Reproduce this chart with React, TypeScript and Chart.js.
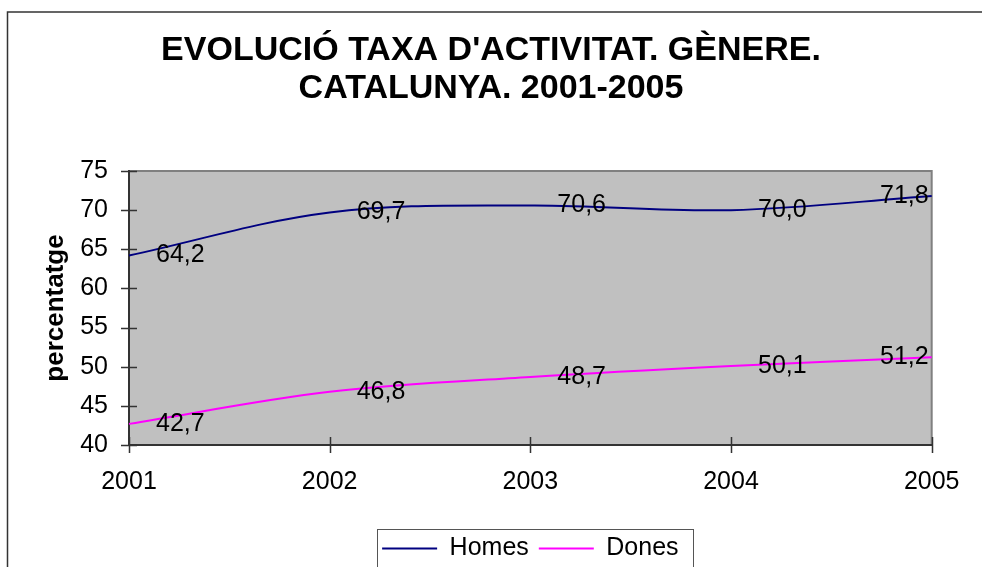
import React, { useEffect, useRef } from 'react';
import { Chart, registerables } from 'chart.js';

Chart.register(...registerables);

const TITLE_LINES = ["EVOLUCIÓ TAXA D'ACTIVITAT. GÈNERE.", 'CATALUNYA. 2001-2005'];
const YEARS = ['2001', '2002', '2003', '2004', '2005'];
const SERIES_NAMES = ['Homes', 'Dones'];
const HOMES = [64.2, 69.7, 70.6, 70.0, 71.8];
const DONES = [42.7, 46.8, 48.7, 50.1, 51.2];
const SERIES_COLORS = ['#000080', '#FF00FF'];
const Y_MIN = 40;
const Y_MAX = 75;
const Y_STEP = 5;
const Y_TITLE = 'percentatge';

const FONT = '"Liberation Sans", Arial, sans-serif';

const decorPlugin = {
  id: 'decor',
  beforeDraw(chart: any) {
    const { ctx, chartArea: a } = chart;
    ctx.save();
    ctx.fillStyle = '#ffffff';
    ctx.fillRect(0, 0, chart.width, chart.height);
    ctx.fillStyle = '#C0C0C0';
    ctx.fillRect(a.left, a.top, a.right - a.left, a.bottom - a.top);
    ctx.strokeStyle = '#808080';
    ctx.lineWidth = 2;
    ctx.beginPath();
    ctx.moveTo(a.left, a.top);
    ctx.lineTo(a.right, a.top);
    ctx.lineTo(a.right, a.bottom);
    ctx.stroke();
    // outer frame (clipped at right/bottom)
    ctx.strokeStyle = '#333333';
    ctx.lineWidth = 1.5;
    ctx.beginPath();
    ctx.moveTo(7.5, chart.height + 4);
    ctx.lineTo(7.5, 12);
    ctx.lineTo(chart.width + 4, 12);
    ctx.stroke();
    ctx.restore();
  },
  beforeDatasetsDraw(chart: any) {
    const { ctx, chartArea: a, scales } = chart;
    const xs = scales.x;
    const ys = scales.y;
    ctx.save();
    ctx.strokeStyle = '#333333';
    ctx.lineWidth = 1.5;
    ctx.beginPath();
    xs.ticks.forEach((_t: any, i: number) => {
      const px = Math.round(xs.getPixelForTick(i)) + 0.5;
      ctx.moveTo(px, a.bottom - 8);
      ctx.lineTo(px, a.bottom + 8);
    });
    ys.ticks.forEach((_t: any, i: number) => {
      const py = Math.round(ys.getPixelForTick(i)) + 0.5;
      ctx.moveTo(a.left - 8, py);
      ctx.lineTo(a.left + 8, py);
    });
    ctx.stroke();
    ctx.restore();
  },
  afterDatasetsDraw(chart: any) {
    const { ctx } = chart;
    ctx.save();
    ctx.font = `25px ${FONT}`;
    ctx.fillStyle = '#000000';
    ctx.textBaseline = 'middle';
    chart.data.datasets.forEach((ds: any, di: number) => {
      const meta = chart.getDatasetMeta(di);
      meta.data.forEach((pt: any, i: number) => {
        const v = ds.data[i] as number;
        const text = v.toFixed(1).replace('.', ',');
        const last = i === meta.data.length - 1;
        ctx.textAlign = last ? 'right' : 'left';
        ctx.fillText(text, last ? pt.x - 3 : pt.x + 27, pt.y);
      });
    });
    ctx.restore();
  },
  afterDraw(chart: any) {
    const { ctx } = chart;
    const hb = chart.legend && chart.legend.legendHitBoxes;
    if (!hb || !hb.length) return;
    const first = hb[0];
    const last = hb[hb.length - 1];
    const left = first.left - 5;
    const right = last.left + last.width + 15;
    const cy = first.top + first.height / 2;
    ctx.save();
    ctx.strokeStyle = '#555555';
    ctx.lineWidth = 1;
    ctx.strokeRect(Math.round(left) + 0.5, Math.round(cy - 19.5) + 0.5, Math.round(right - left), 39);
    ctx.restore();
  },
};

export default function App() {
  const canvasRef = useRef<HTMLCanvasElement | null>(null);

  useEffect(() => {
    document.body.style.margin = '0';
    const canvas = canvasRef.current;
    if (!canvas) return;
    Chart.defaults.font.family = FONT;
    Chart.defaults.color = '#000000';

    const chart = new Chart(canvas, {
      type: 'line',
      data: {
        labels: YEARS,
        datasets: [
          {
            label: SERIES_NAMES[0],
            data: HOMES,
            borderColor: SERIES_COLORS[0],
            backgroundColor: SERIES_COLORS[0],
            borderWidth: 2,
            pointRadius: 0,
            tension: 0.35,
            fill: false,
          },
          {
            label: SERIES_NAMES[1],
            data: DONES,
            borderColor: SERIES_COLORS[1],
            backgroundColor: SERIES_COLORS[1],
            borderWidth: 2,
            pointRadius: 0,
            tension: 0.35,
            fill: false,
          },
        ],
      },
      options: {
        responsive: false,
        animation: false,
        layout: { padding: { left: 39, right: 39, top: 0, bottom: -4 } },
        plugins: {
          title: {
            display: true,
            text: TITLE_LINES,
            color: '#000000',
            font: { size: 34, weight: 'bold', lineHeight: 38 / 34 },
            padding: { top: 32, bottom: 63 },
          },
          legend: {
            display: true,
            position: 'bottom',
            fullSize: false,
            labels: {
              usePointStyle: true,
              pointStyle: 'line',
              pointStyleWidth: 55,
              padding: 10,
              color: '#000000',
              font: { size: 25 },
            },
          },
          tooltip: { enabled: false },
        },
        scales: {
          x: {
            type: 'category',
            offset: false,
            grid: { display: true, drawOnChartArea: false, drawTicks: false },
            border: { display: true, color: '#333333', width: 2 },
            ticks: { padding: 22.5, maxRotation: 0, autoSkip: false, color: '#000000', font: { size: 25 } },
            afterFit: (scale: any) => {
              scale.height = 81;
            },
          },
          y: {
            type: 'linear',
            min: Y_MIN,
            max: Y_MAX,
            grid: { display: true, drawOnChartArea: false, drawTicks: false },
            border: { display: true, color: '#333333', width: 2 },
            ticks: { stepSize: Y_STEP, padding: 21, color: '#000000', font: { size: 25 } },
            title: {
              display: true,
              text: Y_TITLE,
              color: '#000000',
              font: { size: 26, weight: 'bold' },
              padding: { top: 1.5, bottom: 0 },
            },
            afterFit: (scale: any) => {
              scale.width = 90;
            },
          },
        },
      } as any,
      plugins: [decorPlugin],
    });

    return () => {
      chart.destroy();
    };
  }, []);

  return (
    <div style={{ width: 982, height: 567 }}>
      <canvas ref={canvasRef} width={982} height={567} style={{ display: 'block' }} />
    </div>
  );
}
